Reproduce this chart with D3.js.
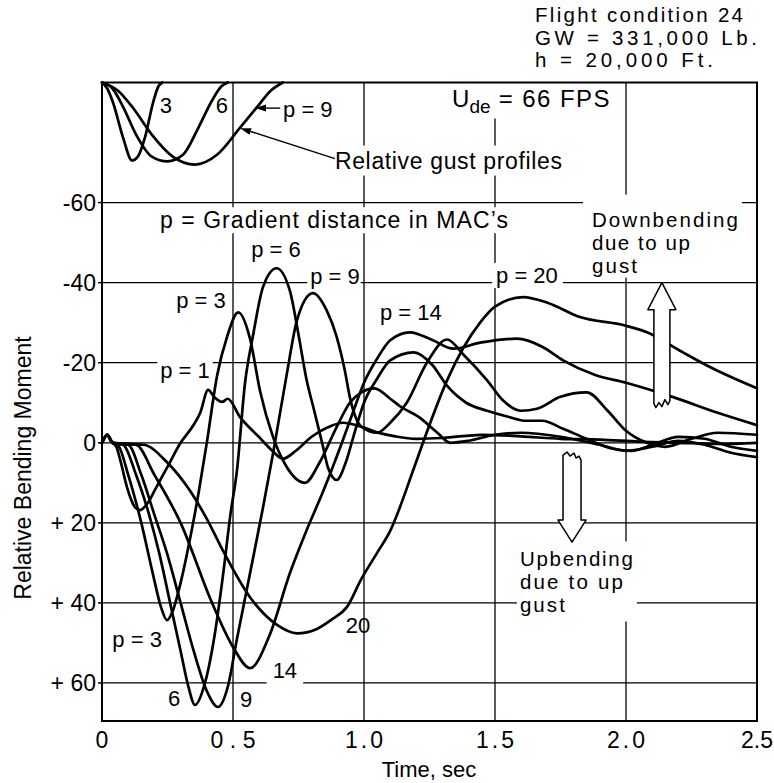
<!DOCTYPE html>
<html><head><meta charset="utf-8">
<script src="https://cdn.jsdelivr.net/npm/d3@7"></script>
<style>
body{margin:0;background:#fff}
svg text{font-family:"Liberation Sans",Arial,Helvetica,sans-serif;fill:#000}
</style>
</head><body>
<svg id="chart" width="774" height="783"></svg>
<script>
// ---------- data ----------
const xTicks = [0, 0.5, 1, 1.5, 2, 2.5];
const xTickLabels = ["0", "0.5", "1.0", "1.5", "2.0", "2.5"];
const yTicks = [-60, -40, -20, 0, 20, 40, 60];
const yTickLabels = ["-60", "-40", "-20", "0", "+ 20", "+ 40", "+ 60"];
const gradientDistances = [1, 3, 6, 9, 14, 20];

// relative gust profiles (time s, plotted value)
const gustP3 = [[0,-90],[0.02,-88.5],[0.042,-85],[0.08,-76.3],[0.115,-70.5],[0.137,-71.5],[0.164,-76.3],[0.195,-85],[0.215,-89],[0.23,-90]];
const gustP6 = [[0,-90],[0.04,-88.5],[0.08,-84],[0.13,-77],[0.19,-71.5],[0.25,-70.3],[0.31,-72],[0.37,-79],[0.42,-85.5],[0.455,-89],[0.48,-90]];
const gustP9 = [[0,-90],[0.06,-88],[0.12,-83.5],[0.19,-77],[0.27,-71.5],[0.355,-69.5],[0.44,-72],[0.527,-78.7],[0.59,-83.7],[0.645,-88],[0.69,-90]];

// relative bending moment responses (time s, moment; negative = downbending)
const respP1 = [[0,0],[0.02,-2],[0.04,0],[0.055,1],[0.07,4.4],[0.095,11],[0.125,16],[0.145,16.8],[0.175,15],[0.2,12],[0.25,6],[0.3,0],[0.35,-4.5],[0.375,-7.5],[0.405,-13.2],[0.43,-11.3],[0.458,-10.2],[0.48,-11],[0.527,-6.4],[0.6,-1.4],[0.65,2],[0.69,4],[0.74,2],[0.8,-1.5],[0.86,-3.8],[0.92,-5],[0.99,-4],[1.05,-2.6],[1.12,-1.6],[1.2,-1],[1.3,-1.2],[1.45,-2],[1.6,-1.6],[1.75,-1],[1.9,-0.8],[2.05,-0.3],[2.2,0],[2.35,0.3],[2.5,0]];
const respP3 = [[0,0],[0.02,-2],[0.04,0],[0.06,0.5],[0.1,8],[0.15,20],[0.195,33],[0.225,41],[0.248,44.3],[0.27,42],[0.3,35],[0.336,24],[0.37,12],[0.4,0],[0.44,-17],[0.477,-26.4],[0.52,-32.6],[0.565,-26],[0.603,-13],[0.653,-1.4],[0.7,5.5],[0.775,10],[0.83,5],[0.896,-4],[0.946,-10],[0.99,-12.6],[1.04,-13.6],[1.1,-11],[1.14,-9],[1.21,-6.4],[1.28,-2.5],[1.33,0],[1.4,-0.5],[1.5,-2],[1.6,-2.5],[1.75,-1.5],[1.9,0.5],[2.0,2],[2.1,1],[2.2,-0.5],[2.3,0.5],[2.4,2.5],[2.5,3.6]];
const respP6 = [[0,0],[0.02,-2],[0.04,0],[0.08,0.5],[0.13,8],[0.18,18],[0.22,28],[0.26,40],[0.3,52],[0.33,61],[0.355,65.5],[0.393,60],[0.43,48],[0.462,33],[0.49,18],[0.515,7],[0.546,-15],[0.577,-27],[0.615,-39],[0.666,-43.6],[0.717,-38],[0.75,-27],[0.78,-16],[0.81,-8],[0.84,0],[0.864,6.5],[0.896,9.3],[0.93,5],[0.966,-3],[1.0,-10],[1.05,-16],[1.1,-20.6],[1.19,-22.6],[1.26,-19.5],[1.32,-14],[1.39,-10],[1.47,-8],[1.55,-6.5],[1.62,-5.5],[1.68,-5.5],[1.76,-3.5],[1.85,-1],[1.95,1.5],[2.02,2],[2.1,0.5],[2.2,-1.5],[2.3,-1],[2.4,1],[2.5,2]];
const respP9 = [[0,0],[0.02,-2],[0.04,0],[0.1,0.5],[0.15,8],[0.2,18],[0.25,28],[0.3,40],[0.35,52],[0.4,62],[0.443,66],[0.48,61],[0.515,49],[0.565,32.6],[0.615,16],[0.653,2.6],[0.706,-17.4],[0.744,-30.6],[0.805,-37.4],[0.858,-33],[0.896,-26.4],[0.927,-18],[0.946,-11.4],[0.99,-4],[1.05,-2.5],[1.1,-5],[1.163,-10],[1.24,-20],[1.317,-25.8],[1.38,-22],[1.47,-15.6],[1.53,-10.6],[1.6,-8],[1.66,-8.5],[1.75,-11.5],[1.85,-12.6],[1.93,-8],[2.0,-3],[2.08,0],[2.15,1],[2.25,-1],[2.35,-2.5],[2.5,-2]];
const respP14 = [[0,0],[0.02,-2],[0.04,0],[0.13,0.5],[0.2,8],[0.3,20],[0.42,40],[0.5,51],[0.565,56.3],[0.64,48],[0.717,32.6],[0.78,22],[0.845,12],[0.91,1],[0.96,-8],[1.0,-15],[1.05,-21],[1.1,-25.6],[1.175,-27.6],[1.263,-25.6],[1.34,-23.5],[1.443,-25],[1.584,-26],[1.68,-24],[1.76,-20.6],[1.88,-17],[2.0,-15],[2.18,-11.4],[2.35,-7.5],[2.5,-4.4]];
const respP20 = [[0,0],[0.02,-2],[0.04,0],[0.16,0.5],[0.25,5],[0.336,12],[0.4,19],[0.462,27],[0.565,38.6],[0.668,45.5],[0.744,47.6],[0.82,46.5],[0.88,44],[0.935,41],[0.99,34],[1.05,27.5],[1.1,22],[1.187,7],[1.225,0],[1.317,-15.6],[1.443,-30],[1.5,-34],[1.607,-36.4],[1.7,-35],[1.824,-31.4],[1.996,-29.3],[2.08,-27.6],[2.206,-23],[2.33,-18.6],[2.5,-13.6]];

// ---------- layout ----------
const svg = d3.select("#chart");
const x = d3.scaleLinear().domain([0, 2.5]).range([102, 757]);
const y = d3.scaleLinear().domain([-90, 69.5]).range([82.5, 721]);
const FS_P = 22, FS_NOTE = 23, FS_BLOCK = 20.5;

const gGrid = svg.append("g");
const gBg = svg.append("g");
const gCurves = svg.append("g");
const gText = svg.append("g");
const gFrame = svg.append("g");

// grid
gGrid.selectAll("line.h").data(yTicks).join("line")
  .attr("x1", x(0)).attr("x2", x(2.5))
  .attr("y1", d => y(d)).attr("y2", d => y(d))
  .attr("stroke", "#000").attr("stroke-width", 1.3);
gGrid.selectAll("line.v").data(xTicks.slice(1, -1)).join("line")
  .attr("y1", y(-90)).attr("y2", y(69.5))
  .attr("x1", d => x(d)).attr("x2", d => x(d))
  .attr("stroke", "#000").attr("stroke-width", 1.3);

// frame
gFrame.append("rect")
  .attr("x", x(0)).attr("y", y(-90))
  .attr("width", x(2.5) - x(0)).attr("height", y(69.5) - y(-90))
  .attr("fill", "none").attr("stroke", "#000").attr("stroke-width", 2);
gFrame.selectAll("line.yt").data(yTicks).join("line")
  .attr("x1", x(0) - 4).attr("x2", x(0))
  .attr("y1", d => y(d)).attr("y2", d => y(d))
  .attr("stroke", "#000").attr("stroke-width", 1.5);

// tick labels
gText.selectAll("text.yl").data(yTicks).join("text")
  .attr("x", x(0) - 6).attr("y", d => y(d) + 8)
  .attr("text-anchor", "end").attr("font-size", 23)
  .text((d, i) => yTickLabels[i]);
const xLabLens = [0, 45, 38, 38, 38, 32];
gText.selectAll("text.xl").data(xTicks).join("text")
  .attr("x", (d, i) => i === 5 ? 773 : x(d)).attr("y", 748)
  .attr("text-anchor", (d, i) => i === 5 ? "end" : "middle").attr("font-size", 23)
  .each(function(d, i) { if (i > 0) d3.select(this).attr("textLength", xLabLens[i]).attr("lengthAdjust", "spacing"); })
  .text((d, i) => xTickLabels[i]);

// axis titles
gText.append("text").attr("x", 429).attr("y", 777).attr("text-anchor", "middle")
  .attr("font-size", 22).text("Time, sec");
gText.append("text").attr("transform", "translate(31,468) rotate(-90)")
  .attr("text-anchor", "middle").attr("font-size", 23).text("Relative Bending Moment");

// top-right note (one text block)
const noteLines = ["Flight condition 24", "GW = 331,000 Lb.", "h = 20,000 Ft."];
const noteLens = [208, 222, 178];
{
  const t = gText.append("text").attr("x", 535).attr("y", 22).attr("font-size", FS_BLOCK);
  noteLines.forEach((s, i) => {
    t.append("tspan").attr("x", 535).attr("dy", i ? 22.5 : 0)
      .attr("textLength", noteLens[i]).attr("lengthAdjust", "spacing").text(s);
  });
}

// curves
const line = d3.line().x(d => x(d[0])).y(d => y(d[1])).curve(d3.curveMonotoneX);
[gustP3, gustP6, gustP9, respP1, respP3, respP6, respP9, respP14, respP20].forEach(s => {
  gCurves.append("path").attr("d", line(s)).attr("fill", "none")
    .attr("stroke", "#000").attr("stroke-width", 2.7)
    .attr("stroke-linejoin", "round").attr("stroke-linecap", "round");
});

// labels: t, v = anchor in data space, pad = background gap [top,right,bottom,left]
const labels = [
  {lines: ["p = 6"], t: 0.664, v: -46.3, anchor: "middle"},
  {lines: ["p = 9"], t: 0.889, v: -39.6, anchor: "middle", pad: [0, 1, 0, 3]},
  {lines: ["p = 3"], t: 0.378, v: -33.6, anchor: "middle"},
  {lines: ["p = 1"], t: 0.317, v: -16.1, anchor: "middle", pad: [0, 3, 0, 3]},
  {lines: ["p = 14"], t: 1.179, v: -30.6, anchor: "middle"},
  {lines: ["p = 20"], t: 1.622, v: -39.9, anchor: "middle", pad: [0, 5, 0, 4]},
  {lines: ["p = 3"], t: 0.134, v: 51, anchor: "middle"},
  {lines: ["6"], t: 0.275, v: 65.7, anchor: "middle"},
  {lines: ["9"], t: 0.55, v: 66, anchor: "middle"},
  {lines: ["14"], t: 0.698, v: 58.8, anchor: "middle", pad: [0, 6, 3, 6]},
  {lines: ["20"], t: 0.977, v: 47.5, anchor: "middle"},
  {lines: ["3"], t: 0.244, v: -82.5, anchor: "middle"},
  {lines: ["6"], t: 0.458, v: -82.5, anchor: "middle"},
  {lines: ["p = 9"], t: 0.691, v: -81.4, anchor: "start"},
  {lines: ["Relative gust profiles"], t: 0.889, v: -68.5, anchor: "start", size: FS_NOTE, lens: [227], pad: [2, 3, 2, 3]},
  {lines: ["p = Gradient distance in MAC\u2019s"], t: 0.221, v: -53.6, anchor: "start", size: FS_NOTE, lens: [348], pad: [0, 3, 0, 3]},
  {lines: ["Downbending", "due to up", "gust"], t: 1.87, v: -54, anchor: "start", size: FS_BLOCK, lens: [146, 98, 45], step: 23, pad: [13, 4, 1, 9]},
  {lines: ["Upbending", "due to up", "gust"], t: 1.595, v: 30.9, anchor: "start", size: FS_BLOCK, lens: [113, 103, 45], step: 23, pad: [6, 4, 5, 3]}
];
labels.forEach(L => {
  const g = gText.append("g");
  const tx = g.append("text").attr("x", x(L.t)).attr("y", y(L.v))
    .attr("text-anchor", L.anchor).attr("font-size", L.size || FS_P);
  L.lines.forEach((s, i) => {
    const ts = tx.append("tspan").attr("x", x(L.t)).attr("dy", i ? L.step : 0).text(s);
    if (L.lens) ts.attr("textLength", L.lens[i]).attr("lengthAdjust", "spacing");
  });
  if (L.pad) {
    const b = g.node().getBBox();
    gBg.append("rect").attr("x", b.x - L.pad[3]).attr("y", b.y - L.pad[0])
      .attr("width", b.width + L.pad[1] + L.pad[3]).attr("height", b.height + L.pad[0] + L.pad[2])
      .attr("fill", "#fff");
  }
});

// U_de = 66 FPS
{
  const g = gText.append("g");
  const t = g.append("text").attr("x", x(1.336)).attr("y", y(-84)).attr("font-size", 24);
  t.append("tspan").text("U");
  t.append("tspan").attr("dy", 6).attr("font-size", 19).text("de");
  t.append("tspan").attr("dy", -6).attr("textLength", 119).attr("lengthAdjust", "spacing").text(" = 66 FPS");
  const b = g.node().getBBox();
  gBg.append("rect").attr("x", b.x - 4).attr("y", b.y - 2).attr("width", b.width + 7)
    .attr("height", b.height + 4).attr("fill", "#fff");
}

// pointer arrows for gust profile labels
const pointers = [
  {from: [0.68, -83.6], to: [0.584, -83.6]},
  {from: [0.889, -71.0], to: [0.527, -78.6]}
];
pointers.forEach(p => {
  const x1 = x(p.from[0]), y1 = y(p.from[1]), x2 = x(p.to[0]), y2 = y(p.to[1]);
  const a = Math.atan2(y2 - y1, x2 - x1), len = 11, w = 3.5;
  const bx = x2 - len * Math.cos(a), by = y2 - len * Math.sin(a);
  gText.append("line").attr("x1", x1).attr("y1", y1).attr("x2", bx).attr("y2", by)
    .attr("stroke", "#000").attr("stroke-width", 1.4);
  gText.append("path").attr("d",
    `M${x2},${y2}L${bx - w * Math.sin(a)},${by + w * Math.cos(a)}L${bx + w * Math.sin(a)},${by - w * Math.cos(a)}Z`)
    .attr("fill", "#000");
});

// hollow block arrows (up = downbending, down = upbending)
{
  const tx = x(2.137), ty = y(-40);
  const p = [[0,0],[14,27],[8,27],[8,118],[6,122],[3,117],[0,124],[-3,120],[-6,125],[-8,121],[-8,27],[-14,27]];
  gText.append("path").attr("d", "M" + p.map(q => [tx + q[0], ty + q[1]].join(",")).join("L") + "Z")
    .attr("fill", "#fff").attr("stroke", "#000").attr("stroke-width", 1.5).attr("stroke-linejoin", "round");
}
{
  const tx = x(1.794), ty = y(24.8);
  const p = [[0,0],[14,-22],[9,-22],[9,-82],[7,-86],[4,-84],[2,-89],[-2,-86],[-5,-90],[-9,-87],[-9,-22],[-14,-22]];
  gText.append("path").attr("d", "M" + p.map(q => [tx + q[0], ty + q[1]].join(",")).join("L") + "Z")
    .attr("fill", "#fff").attr("stroke", "#000").attr("stroke-width", 1.5).attr("stroke-linejoin", "round");
}
</script>
</body></html>
